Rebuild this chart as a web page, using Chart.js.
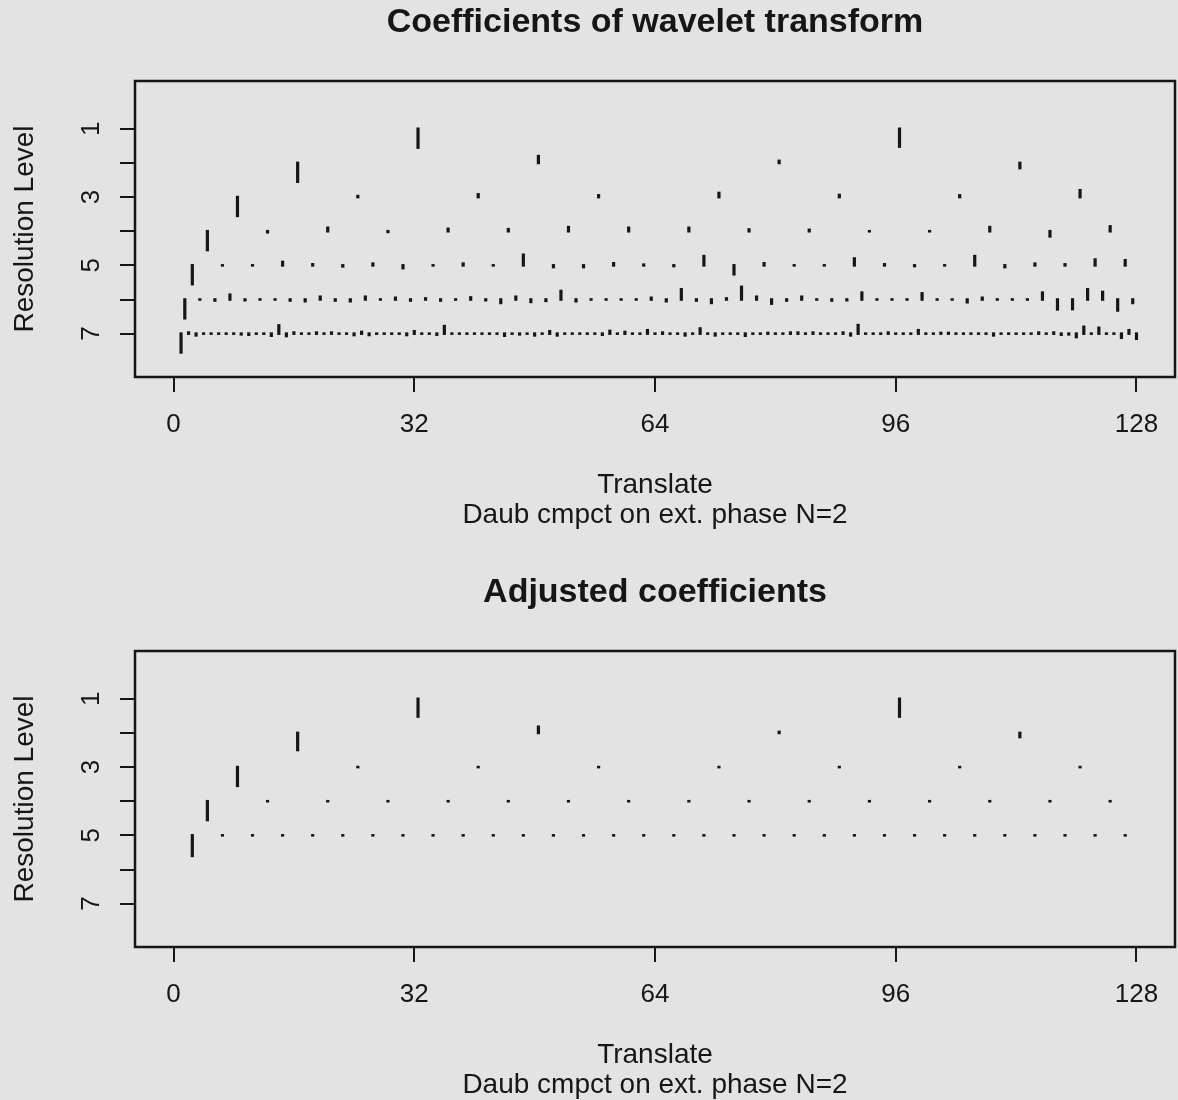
<!DOCTYPE html>
<html>
<head>
<meta charset="utf-8">
<script src="https://cdn.jsdelivr.net/npm/chart.js@4.4.1/dist/chart.umd.min.js"></script>
<style>
    html, body { margin: 0; padding: 0; background: #e3e3e3; overflow: hidden; }
    #wrap { position: relative; width: 1178px; height: 1100px; }
    canvas { position: absolute; left: 0; }
    #coefChart { top: 0; }
    #adjChart { top: 570px; }
</style>
</head>
<body>
<div id="wrap">
    <canvas id="coefChart" width="1178" height="530"></canvas>
    <canvas id="adjChart" width="1178" height="530"></canvas>
</div>
<script>
const xTicks = [0, 32, 64, 96, 128];
const levelTicks = [1, 2, 3, 4, 5, 6, 7];
const levelTickLabels = ['1', '', '3', '', '5', '', '7'];

// wavelet coefficients, scaled by level (negative = drawn downwards)
const coefLevel1 = [-0.55, -0.52];
const coefLevel2 = [-0.55, 0.2, 0.06, -0.15];
const coefLevel3 = [-0.55, 0.03, 0.08, 0.05, 0.12, 0.06, 0.05, 0.2];
const coefLevel4 = [-0.55, -0.03, 0.1, -0.02, 0.07, 0.06, 0.12, 0.1, 0.1, 0.05, 0.04, 0, 0, 0.12, -0.15, 0.14];
const coefLevel5 = [-0.55, 0, 0, 0.1, 0.03, -0.03, 0.05, -0.08, 0, 0.05,
    0, 0.31, -0.05, -0.05, 0.06, 0.02, -0.02, 0.27, -0.26, 0.06, 0, 0,
    0.2, 0.03, -0.02, 0, 0.27, -0.05, 0.05, 0.03, 0.17, 0.15];
const coefLevel6 = [-0.55, 0, -0.03, 0.14, -0.02, 0, 0, -0.03, -0.05, 0.08, -0.03, -0.05, 0.08, 0, 0.05, -0.03,
    0.03, -0.03, 0, 0.06, -0.02, -0.1, 0.08, -0.07, -0.04, 0.25, -0.05, 0, 0, 0, 0, 0.05,
    -0.05, 0.3, -0.03, -0.1, 0.03, 0.37, 0.08, -0.12, -0.03, 0.08, 0, -0.03, -0.02, 0.2, 0, 0,
    0, 0.18, 0, 0, -0.08, 0.05, 0, 0, 0, 0.2, -0.29, -0.28, 0.3, 0.22, -0.32, -0.1];
const coefLevel7 = [-0.55, 0.03, -0.05, 0, 0, 0, 0, 0, -0.02, -0.03, 0, 0, -0.06, 0.24, -0.07, 0.03,
    0, 0, 0.03, 0, 0.03, 0, 0, -0.04, 0.05, -0.04, 0, 0, 0, 0, -0.04, 0.07,
    0, 0, -0.03, 0.22, 0, 0, 0, 0, 0, 0, 0, -0.06, 0, -0.02, 0, -0.05,
    0, 0.07, -0.05, 0, 0, 0, 0, 0, -0.03, 0.08, 0, 0.05, 0, 0, 0.1, 0,
    0.03, 0, 0, -0.05, 0, 0.15, 0, -0.05, 0, 0, 0, -0.06, 0, 0, 0.02, 0,
    0, 0.03, 0.03, 0, 0.03, 0, 0, 0, 0.03, -0.05, 0.25, 0, 0, 0, 0.03, 0,
    0, 0, 0.1, 0, 0, 0.02, 0.02, 0, 0, 0, 0, 0, -0.05, 0, 0, 0,
    0, 0, 0.03, 0, 0.03, -0.03, -0.02, -0.1, 0.2, 0, 0.17, 0, 0, -0.12, 0.1, -0.15];

// adjusted (thresholded) coefficients
const adjLevel1 = [-0.52, -0.52];
const adjLevel2 = [-0.5, 0.18, 0.03, -0.12];
const adjLevel3 = [-0.55, 0, 0, 0, 0, 0, 0, 0];
const adjLevel4 = [-0.55, 0, 0, 0, 0, 0, 0, 0, 0, 0, 0, 0, 0, 0, 0, 0];
const adjLevel5 = [-0.6, 0, 0, 0, 0, 0, 0, 0, 0, 0, 0, 0, 0, 0, 0, 0,
    0, 0, 0, 0, 0, 0, 0, 0, 0, 0, 0, 0, 0, 0, 0, 0];

const FONT = '"Liberation Sans", Arial, Helvetica, sans-serif';
const INK = '#161616';

Chart.defaults.font.family = FONT;
Chart.defaults.color = INK;

// coefficient k of a level sits at the middle of its translate block
function levelData(values, level) {
    const step = 128 / values.length;
    return values.map((v, k) => ({ x: (k + 0.5) * step + 0.5, y: [level, level - v] }));
}

const boxPlugin = {
    id: 'box',
    afterDraw(chart) {
        const { ctx, chartArea: a } = chart;
        ctx.save();
        ctx.strokeStyle = INK;
        ctx.lineWidth = 2.5;
        ctx.strokeRect(a.left, a.top, a.right - a.left, a.bottom - a.top);
        ctx.restore();
    }
};

function makePlot(canvasId, titleText, levels) {
    const datasets = levels.map((values, i) => ({
        data: levelData(values, i + 1),
        backgroundColor: INK,
        barThickness: 0.6,
        inflateAmount: 1.3,
        grouped: false
    }));

    return new Chart(document.getElementById(canvasId), {
        type: 'bar',
        data: { datasets },
        options: {
            responsive: false,
            animation: false,
            layout: { padding: { left: 0, right: 3, top: 0, bottom: 0 } },
            plugins: {
                legend: { display: false },
                tooltip: { enabled: false },
                title: {
                    display: true,
                    fullSize: false,
                    text: titleText,
                    color: INK,
                    font: { size: 34, weight: 'bold' },
                    padding: { top: 2.5, bottom: 37.7 }
                }
            },
            scales: {
                x: {
                    type: 'linear',
                    min: -5.12, max: 133.12,
                    offset: false,
                    afterBuildTicks: s => { s.ticks = xTicks.map(v => ({ value: v })); },
                    afterFit: s => { s.height = 153; },
                    border: { display: false },
                    grid: { offset: false, drawOnChartArea: false, drawTicks: true, tickLength: 15, color: INK, lineWidth: 2 },
                    ticks: { font: { size: 26 }, padding: 17, color: INK, maxRotation: 0 },
                    title: {
                        display: true,
                        text: ['Translate', 'Daub cmpct on ext. phase N=2'],
                        color: INK,
                        font: { size: 28, lineHeight: 1.07 },
                        padding: { top: 0, bottom: 0 }
                    }
                },
                y: {
                    type: 'linear',
                    reverse: true,
                    min: -0.4, max: 8.27,
                    afterBuildTicks: s => { s.ticks = levelTicks.map(v => ({ value: v })); },
                    afterFit: s => { s.width = 135; },
                    border: { display: false },
                    grid: { drawOnChartArea: false, drawTicks: true, tickLength: 15, color: INK, lineWidth: 2 },
                    ticks: {
                        font: { size: 26 }, color: INK, padding: 21,
                        minRotation: 90, maxRotation: 90, crossAlign: 'center',
                        callback: (value, index) => levelTickLabels[index]
                    },
                    title: {
                        display: true,
                        text: 'Resolution Level',
                        color: INK,
                        font: { size: 28, lineHeight: 1.07 },
                        padding: { top: 10, bottom: 0 }
                    }
                }
            }
        },
        plugins: [boxPlugin]
    });
}

document.addEventListener('DOMContentLoaded', () => {
    makePlot('coefChart', 'Coefficients of wavelet transform',
        [coefLevel1, coefLevel2, coefLevel3, coefLevel4, coefLevel5, coefLevel6, coefLevel7]);
    makePlot('adjChart', 'Adjusted coefficients',
        [adjLevel1, adjLevel2, adjLevel3, adjLevel4, adjLevel5]);
});
</script>
</body>
</html>
